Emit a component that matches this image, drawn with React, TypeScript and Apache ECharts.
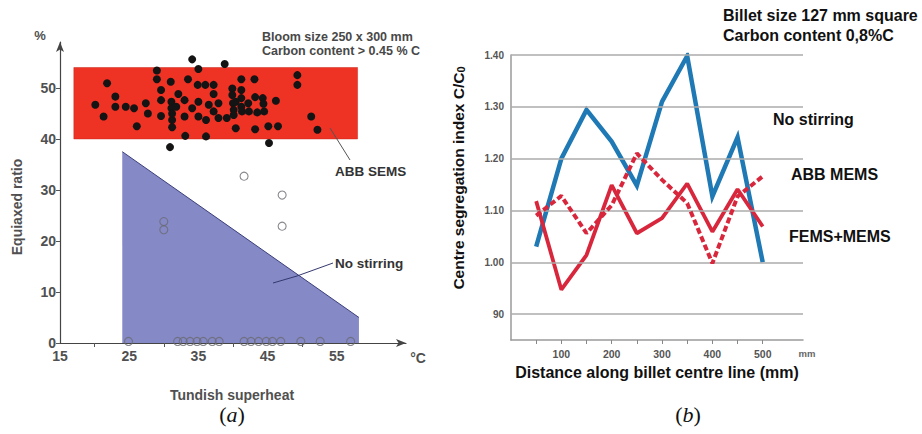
import React, { useEffect, useRef } from 'react';
import * as echarts from 'echarts';

// ---------- Panel (a): equiaxed ratio vs tundish superheat ----------
const xTicksA = [15, 25, 35, 45, 55];
const yTicksA = [0, 10, 20, 30, 40, 50];

// ABB SEMS band: [xFrom, yFrom, xTo, yTo]
const semsBand: number[][] = [[17, 40, 58, 54]];
// No stirring envelope (upper edge, filled down to 0)
const noStirEnvelope: number[][] = [[24, 37.5], [58.2, 5]];

const semsDots: number[][] = [
  [20.1, 46.7], [21.3, 44.4], [21.8, 50.9], [23.0, 48.3], [23.0, 46.3], [24.5, 46.3],
  [25.7, 46.0], [26.1, 42.5], [27.4, 47.0], [27.7, 45.0], [29.0, 53.4], [29.0, 51.7],
  [29.6, 49.6], [29.6, 47.6], [29.6, 44.5], [30.9, 38.4], [31.0, 51.2], [31.1, 47.3],
  [31.1, 46.0], [31.2, 45.0], [31.2, 43.7], [31.2, 42.3], [32.1, 48.8], [31.8, 46.3],
  [33.0, 47.6], [33.0, 44.4], [33.1, 40.6], [33.5, 51.7], [34.1, 55.6], [35.0, 53.7],
  [34.9, 50.6], [35.0, 47.3], [35.0, 44.4], [36.0, 50.6], [36.1, 43.7], [36.1, 40.5],
  [37.2, 50.6], [37.2, 48.8], [37.2, 45.4], [37.9, 47.0], [37.9, 44.1], [38.8, 54.7],
  [39.1, 44.1], [39.9, 49.9], [39.9, 48.6], [40.0, 47.0], [40.1, 45.7], [40.1, 44.7],
  [40.4, 42.1], [41.2, 51.7], [41.2, 49.6], [41.2, 48.0], [41.2, 46.3], [41.3, 45.4],
  [42.2, 47.0], [42.3, 45.4], [43.1, 51.7], [43.2, 48.2], [43.2, 41.9], [43.5, 45.2],
  [44.3, 48.0], [44.4, 46.9], [44.5, 45.4], [45.1, 42.5], [45.2, 39.2], [46.2, 47.5],
  [46.5, 42.5], [49.3, 52.5], [49.3, 50.6], [51.3, 44.4], [52.2, 41.8], [34.1, 46.0],
  [36.5, 46.7], [40.4, 47.3]
];

const noStirDots: number[][] = [
  [41.6, 32.7], [47.1, 29.0], [47.1, 22.9], [30.0, 23.8], [30.0, 22.2],
  [24.9, 0.3], [32.0, 0.3], [32.8, 0.3], [33.8, 0.3], [34.8, 0.3], [35.7, 0.3],
  [37.0, 0.3], [38.0, 0.3], [41.6, 0.3], [42.6, 0.3], [43.7, 0.3], [44.8, 0.3],
  [45.7, 0.3], [46.9, 0.3], [49.8, 0.3], [52.6, 0.3], [57.0, 0.3]
];

// ---------- Panel (b): centre segregation index ----------
const distance = [50, 100, 150, 200, 250, 300, 350, 400, 450, 500];
const noStirring = [1.03, 1.2, 1.294, 1.233, 1.148, 1.31, 1.398, 1.127, 1.241, 1.0];
const abbMems = [1.09, 1.128, 1.056, 1.11, 1.21, 1.159, 1.114, 0.998, 1.127, 1.166];
const femsMems = [1.118, 0.947, 1.014, 1.149, 1.056, 1.085, 1.152, 1.059, 1.141, 1.069];
const yGridB = [0.9, 1.0, 1.1, 1.2, 1.3, 1.4];
const xLabelsB = [100, 200, 300, 400, 500];
const xTicksB = [50, 100, 150, 200, 250, 300, 350, 400, 450, 500];

const SANS = '"Liberation Sans", Arial, Helvetica, sans-serif';
const SERIF = '"Liberation Serif", "DejaVu Serif", serif';

const pair = (xs: number[], ys: number[]) => xs.map((x, i) => [x, ys[i]]);

export default function App() {
  const ref = useRef<HTMLDivElement>(null);
  useEffect(() => {
    if (!ref.current) return;
    const chart = echarts.init(ref.current, null, { renderer: 'svg' });
    const grayA = '#505050';
    const option: any = {
      animation: false,
      backgroundColor: '#ffffff',
      grid: [
        { left: 60, top: 42, width: 346, height: 301 },
        { left: 511, top: 55, width: 292, height: 285 }
      ],
      xAxis: [
        {
          gridIndex: 0, type: 'value', min: 15, max: 65, interval: 5,
          axisLine: { show: true, symbol: ['none', 'arrow'], symbolSize: [6, 10], lineStyle: { color: '#444', width: 1.2 } },
          axisTick: { show: true, length: 4, customValues: [20, 30, 40, 50], lineStyle: { color: '#555' } },
          axisLabel: {
            customValues: xTicksA,
            formatter: (v: number) => (xTicksA.includes(v) ? String(v) : ''),
            color: grayA, fontFamily: SANS, fontWeight: 'bold', fontSize: 14, margin: 6
          },
          splitLine: { show: false }
        },
        {
          gridIndex: 1, type: 'value', min: 0, max: 580, interval: 50,
          axisLine: { show: true, lineStyle: { color: '#9a9a9a', width: 1.5 } },
          axisTick: { show: true, length: 4, customValues: xTicksB, lineStyle: { color: '#888' } },
          axisLabel: {
            customValues: xLabelsB,
            formatter: (v: number) => (xLabelsB.includes(v) ? String(v) : ''),
            color: '#555', fontFamily: SANS, fontWeight: 'bold', fontSize: 10.5, margin: 8
          },
          splitLine: { show: false }
        }
      ],
      yAxis: [
        {
          gridIndex: 0, type: 'value', min: 0, max: 59, interval: 10,
          axisLine: { show: true, symbol: ['none', 'arrow'], symbolSize: [6, 10], lineStyle: { color: '#444', width: 1.2 } },
          axisTick: { show: true, length: 4, customValues: yTicksA, lineStyle: { color: '#555' } },
          axisLabel: {
            customValues: yTicksA,
            formatter: (v: number) => (yTicksA.includes(v) ? String(v) : ''),
            color: grayA, fontFamily: SANS, fontWeight: 'bold', fontSize: 14, margin: 4
          },
          splitLine: { show: false }
        },
        {
          gridIndex: 1, type: 'value', min: 0.85, max: 1.4, interval: 0.05,
          axisLine: { show: true, lineStyle: { color: '#9a9a9a', width: 1.5 } },
          axisTick: { show: false },
          axisLabel: {
            formatter: (v: number) => {
              const r = Math.round(v * 100);
              if (r % 10 !== 0) return '';
              if (r === 90) return '90';
              return (r / 100).toFixed(2);
            },
            color: '#555', fontFamily: SANS, fontWeight: 'bold', fontSize: 10, margin: 7
          },
          splitLine: { show: false }
        }
      ],
      series: [
        {
          type: 'custom', xAxisIndex: 0, yAxisIndex: 0, z: 1,
          data: semsBand,
          encode: { x: [0, 2], y: [1, 3] },
          renderItem: (params: any, api: any) => {
            const p1 = api.coord([api.value(0), api.value(3)]);
            const p2 = api.coord([api.value(2), api.value(1)]);
            return {
              type: 'rect',
              shape: { x: p1[0], y: p1[1], width: p2[0] - p1[0], height: p2[1] - p1[1] },
              style: { fill: '#ee3224', stroke: '#c9281c', lineWidth: 0.5 }
            };
          }
        },
        {
          type: 'line', xAxisIndex: 0, yAxisIndex: 0, z: 1,
          data: noStirEnvelope, symbol: 'none',
          lineStyle: { color: '#3b3f78', width: 1 },
          areaStyle: { color: '#8589c6', opacity: 1 }
        },
        {
          type: 'scatter', xAxisIndex: 0, yAxisIndex: 0, z: 3,
          data: semsDots, symbolSize: 8,
          itemStyle: { color: '#141414', opacity: 1 }
        },
        {
          type: 'scatter', xAxisIndex: 0, yAxisIndex: 0, z: 3,
          data: noStirDots, symbolSize: 8,
          itemStyle: { color: 'rgba(0,0,0,0)', borderColor: '#6a6a72', borderWidth: 1.1 }
        },
        {
          type: 'line', xAxisIndex: 1, yAxisIndex: 1, z: 1,
          data: [], symbol: 'none', silent: true,
          markLine: {
            silent: true, symbol: 'none', label: { show: false },
            lineStyle: { color: '#ababab', width: 1.5, type: 'solid' },
            data: yGridB.map((v) => ({ yAxis: v }))
          }
        },
        {
          type: 'line', xAxisIndex: 1, yAxisIndex: 1, z: 3,
          data: pair(distance, noStirring), symbol: 'none',
          lineStyle: { color: '#1f79b5', width: 4.5, join: 'miter' }
        },
        {
          type: 'line', xAxisIndex: 1, yAxisIndex: 1, z: 4,
          data: pair(distance, femsMems), symbol: 'none',
          lineStyle: { color: '#d8273c', width: 3.8 }
        },
        {
          type: 'line', xAxisIndex: 1, yAxisIndex: 1, z: 5,
          data: pair(distance, abbMems), symbol: 'none',
          lineStyle: { color: '#d8273c', width: 4, type: [6, 3] }
        }
      ],
      graphic: [
        // Panel (a) texts
        { type: 'text', z: 10, x: 40, y: 35, style: { text: '%', font: `bold 13px ${SANS}`, fill: grayA, textAlign: 'center', textVerticalAlign: 'middle' } },
        { type: 'text', z: 10, x: 418, y: 358, style: { text: '°C', font: `bold 14px ${SANS}`, fill: grayA, textAlign: 'center', textVerticalAlign: 'middle' } },
        { type: 'text', z: 10, x: 262, y: 37, style: { text: 'Bloom size 250 x 300 mm', font: `bold 12.5px ${SANS}`, fill: '#484848', textVerticalAlign: 'middle' } },
        { type: 'text', z: 10, x: 262, y: 51, style: { text: 'Carbon content > 0.45 % C', font: `bold 12.5px ${SANS}`, fill: '#484848', textVerticalAlign: 'middle' } },
        { type: 'line', z: 10, shape: { x1: 330, y1: 128, x2: 350, y2: 160 }, style: { stroke: '#555', lineWidth: 1 } },
        { type: 'text', z: 10, x: 335, y: 171, style: { text: 'ABB SEMS', font: `bold 13.5px ${SANS}`, fill: '#333', textVerticalAlign: 'middle' } },
        { type: 'polyline', z: 10, shape: { points: [[273, 283], [297, 276], [333, 263]] }, style: { stroke: '#34386e', lineWidth: 1, fill: 'none' } },
        { type: 'text', z: 10, x: 335, y: 263, style: { text: 'No stirring', font: `bold 13.5px ${SANS}`, fill: '#333', textVerticalAlign: 'middle' } },
        { type: 'text', z: 10, x: 17, y: 207, rotation: Math.PI / 2, style: { text: 'Equiaxed ratio', font: `bold 14px ${SANS}`, fill: grayA, textAlign: 'center', textVerticalAlign: 'middle' } },
        { type: 'text', z: 10, x: 232, y: 395, style: { text: 'Tundish superheat', font: `bold 14px ${SANS}`, fill: grayA, textAlign: 'center', textVerticalAlign: 'middle' } },
        {
          type: 'text', z: 10, x: 232, y: 414,
          style: {
            text: '({i|a})', font: `22px ${SERIF}`, fill: '#111', textAlign: 'center', textVerticalAlign: 'middle',
            rich: { i: { fontFamily: SERIF, fontStyle: 'italic', fontSize: 22, fill: '#111' } }
          }
        },
        // Panel (b) texts
        { type: 'text', z: 10, x: 723, y: 15, style: { text: 'Billet size 127 mm square', font: `bold 16px ${SANS}`, fill: '#111', textVerticalAlign: 'middle' } },
        { type: 'text', z: 10, x: 723, y: 35, style: { text: 'Carbon content 0,8%C', font: `bold 16px ${SANS}`, fill: '#111', textVerticalAlign: 'middle' } },
        { type: 'text', z: 10, x: 773, y: 119, style: { text: 'No stirring', font: `bold 16px ${SANS}`, fill: '#111', textVerticalAlign: 'middle' } },
        { type: 'text', z: 10, x: 791, y: 174, style: { text: 'ABB MEMS', font: `bold 16px ${SANS}`, fill: '#111', textVerticalAlign: 'middle' } },
        { type: 'text', z: 10, x: 789, y: 236, style: { text: 'FEMS+MEMS', font: `bold 16px ${SANS}`, fill: '#111', textVerticalAlign: 'middle' } },
        { type: 'text', z: 10, x: 807, y: 353, style: { text: 'mm', font: `bold 9.5px ${SANS}`, fill: '#666', textAlign: 'center', textVerticalAlign: 'middle' } },
        {
          type: 'text', z: 10, x: 458, y: 178, rotation: Math.PI / 2,
          style: {
            text: 'Centre segregation index C/C{s|0}', font: `bold 15.5px ${SANS}`, fill: '#111', textAlign: 'center', textVerticalAlign: 'middle',
            rich: { s: { fontFamily: SANS, fontWeight: 'bold', fontSize: 11, fill: '#111', verticalAlign: 'bottom', padding: [6, 0, 0, 0] } }
          }
        },
        { type: 'text', z: 10, x: 657, y: 372, style: { text: 'Distance along billet centre line (mm)', font: `bold 16px ${SANS}`, fill: '#111', textAlign: 'center', textVerticalAlign: 'middle' } },
        {
          type: 'text', z: 10, x: 688, y: 414,
          style: {
            text: '({i|b})', font: `22px ${SERIF}`, fill: '#111', textAlign: 'center', textVerticalAlign: 'middle',
            rich: { i: { fontFamily: SERIF, fontStyle: 'italic', fontSize: 22, fill: '#111' } }
          }
        }
      ]
    };
    chart.setOption(option);
    return () => chart.dispose();
  }, []);
  return (
    <div
      ref={ref}
      style={{ position: 'fixed', left: 0, top: 0, width: 922, height: 434, background: '#fff' }}
    />
  );
}
